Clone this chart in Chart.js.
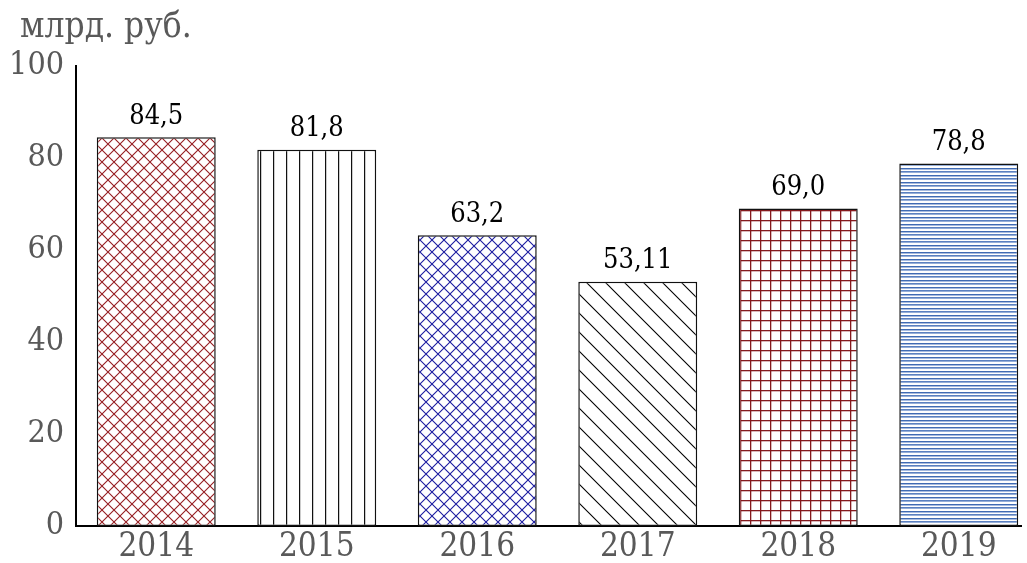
<!DOCTYPE html>
<html>
<head>
<meta charset="utf-8">
<script src="https://cdn.jsdelivr.net/npm/chart.js@4.4.1/dist/chart.umd.min.js"></script>
<style>
html,body{margin:0;padding:0;background:#fff;overflow:hidden;}
#wrap{width:1022px;height:563px;position:relative;overflow:hidden;}
</style>
</head>
<body>
<div id="wrap"><canvas id="c" width="1040" height="563"></canvas></div>
<script>
const categories = ['2014', '2015', '2016', '2017', '2018', '2019'];
const values = [84.5, 81.8, 63.2, 53.11, 69.0, 78.8];
const valueLabels = ['84,5', '81,8', '63,2', '53,11', '69,0', '78,8'];
const unitLabel = 'млрд. руб.';
const yTicks = [0, 20, 40, 60, 80, 100];

const FONT = "'DejaVu Serif Condensed', 'Liberation Serif', serif";

function mk(w, h, draw) {
  const c = document.createElement('canvas');
  c.width = w; c.height = h;
  const g = c.getContext('2d');
  g.fillStyle = '#fff'; g.fillRect(0, 0, w, h);
  draw(g, w, h);
  return document.getElementById('c').getContext('2d').createPattern(c, 'repeat');
}
function crossHatch(color, s) {
  return mk(s, s, (g) => {
    g.strokeStyle = color; g.lineWidth = 1.1;
    g.beginPath();
    g.moveTo(0, 0); g.lineTo(s, s);
    g.moveTo(0, s); g.lineTo(s, 0);
    g.stroke();
  });
}
const patterns = [
  crossHatch('#961e22', 12),
  mk(13, 4, (g) => { g.fillStyle = '#111'; g.fillRect(0, 0, 1, 4); g.fillStyle = '#999'; g.fillRect(1, 0, 0.5, 4); }),
  crossHatch('#1c1ca0', 12),
  mk(19, 19, (g) => {
    g.strokeStyle = '#000'; g.lineWidth = 1.1;
    g.beginPath();
    g.moveTo(-1, -1); g.lineTo(20, 20);
    g.moveTo(-1, 18); g.lineTo(1, 20);
    g.moveTo(18, -1); g.lineTo(20, 1);
    g.stroke();
  }),
  mk(10, 10, (g) => { g.fillStyle = '#851a1e'; g.fillRect(0, 0, 10, 1.3); g.fillRect(0, 0, 1.3, 10); }),
  mk(4, 7, (g) => {
    g.fillStyle = '#3f6ab3'; g.fillRect(0, 0, 4, 1);
    g.fillStyle = '#a7bbdf'; g.fillRect(0, 1, 4, 1);
    g.fillStyle = '#5b80c0'; g.fillRect(0, 3, 4, 1);
    g.fillStyle = '#95aed8'; g.fillRect(0, 4, 4, 1);
  })
];

const valueLabelPlugin = {
  id: 'valueLabels',
  afterDatasetsDraw(chart) {
    const ctx = chart.ctx;
    const meta = chart.getDatasetMeta(0);
    ctx.save();
    ctx.font = "27px " + FONT;
    ctx.fillStyle = '#000';
    ctx.textAlign = 'center';
    ctx.textBaseline = 'bottom';
    meta.data.forEach((el, i) => {
      ctx.fillText(valueLabels[i], el.x, el.y - 7);
    });
    ctx.restore();
  }
};

const unitLabelPlugin = {
  id: 'unitLabel',
  afterDraw(chart) {
    const ctx = chart.ctx;
    ctx.save();
    ctx.font = "35px " + FONT;
    ctx.fillStyle = '#595959';
    ctx.textAlign = 'left';
    ctx.textBaseline = 'middle';
    ctx.fillText(unitLabel, chart.chartArea.left - 56, 28);
    ctx.restore();
  }
};

new Chart(document.getElementById('c'), {
  type: 'bar',
  data: {
    labels: categories,
    datasets: [{
      data: values,
      backgroundColor: patterns,
      borderColor: '#111',
      borderWidth: 1.5,
      borderSkipped: false,
      categoryPercentage: 1.0,
      barPercentage: 0.741
    }]
  },
  options: {
    responsive: false,
    animation: false,
    devicePixelRatio: 1,
    layout: { padding: { left: 10, right: 1, top: 66, bottom: 0 } },
    plugins: {
      legend: { display: false },
      tooltip: { enabled: false },
      title: { display: false }
    },
    scales: {
      x: {
        grid: { display: false, drawTicks: false },
        border: { display: true, color: '#000', width: 2 },
        ticks: { color: '#595959', font: { family: FONT, size: 33 }, padding: 2 },
        afterFit(s) { s.height = 37; }
      },
      y: {
        min: 0, max: 100,
        afterBuildTicks(s) { s.ticks = yTicks.map(v => ({ value: v })); },
        grid: { display: false, drawTicks: false },
        border: { display: true, color: '#000', width: 2 },
        ticks: { color: '#595959', font: { family: FONT, size: 32 }, padding: 12 },
        afterFit(s) { s.width = 66; }
      }
    }
  },
  plugins: [valueLabelPlugin, unitLabelPlugin]
});
</script>
</body>
</html>
